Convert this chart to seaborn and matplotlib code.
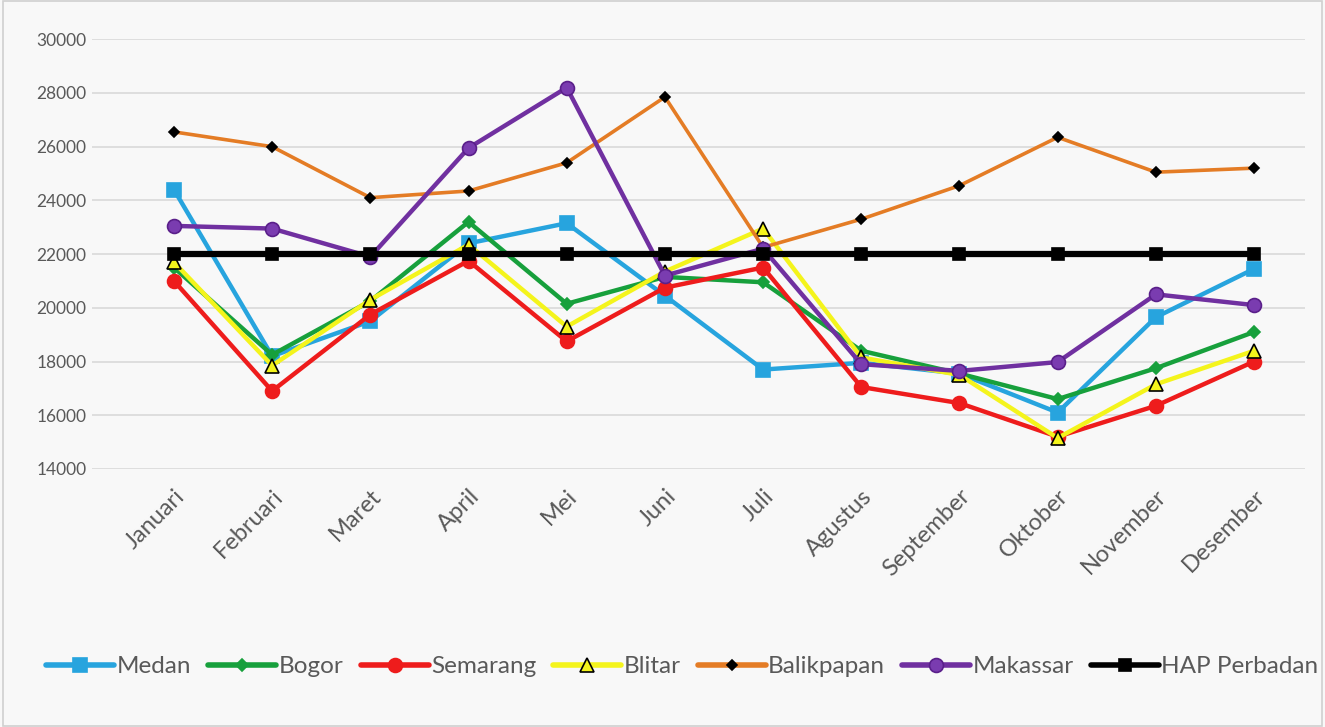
import numpy as np
import pandas as pd
import matplotlib
matplotlib.use('Agg')
import matplotlib.pyplot as plt
import seaborn as sns

# Данные
bulan = ['Januari', 'Februari', 'Maret', 'April', 'Mei', 'Juni', 'Juli',
         'Agustus', 'September', 'Oktober', 'November', 'Desember']

medan = [24400, 18200, 19500, 22400, 23150, 20450, 17700, 17950, 17550, 16100, 19650, 21450]
bogor = [21500, 18250, 20250, 23200, 20150, 21150, 20950, 18400, 17550, 16600, 17750, 19100]
semarang = [21000, 16900, 19750, 21750, 18750, 20750, 21500, 17050, 16450, 15200, 16350, 18000]
blitar = [21700, 17850, 20300, 22350, 19300, 21350, 22950, 18150, 17500, 15150, 17150, 18400]
balikpapan = [26550, 26000, 24100, 24350, 25400, 27850, 22250, 23300, 24550, 26350, 25050, 25200]
makassar = [23050, 22950, 21900, 25950, 28200, 21200, 22200, 17900, 17650, 17980, 20500, 20100]
hap = [22000] * 12

series = {
    'Medan': medan,
    'Bogor': bogor,
    'Semarang': semarang,
    'Blitar': blitar,
    'Balikpapan': balikpapan,
    'Makassar': makassar,
    'HAP Perbadan': hap,
}

# стиль каждой линии: цвет, маркер, размер, цвет маркера, обводка, толщина
styles = {
    'Medan': dict(color='#27a4de', marker='s', ms=9.5, mfc='#27a4de', mec='#27a4de', lw=3.2),
    'Bogor': dict(color='#17a03c', marker='D', ms=6, mfc='#17a03c', mec='#17a03c', lw=3.2),
    'Semarang': dict(color='#ee1c1c', marker='o', ms=10, mfc='#ee1c1c', mec='#ee1c1c', lw=3.2),
    'Blitar': dict(color='#f4f41c', marker='^', ms=10, mfc='#f4f41c', mec='black', lw=3.2),
    'Balikpapan': dict(color='#e47c25', marker='D', ms=5.5, mfc='black', mec='black', lw=2.6),
    'Makassar': dict(color='#7030a0', marker='o', ms=10, mfc='#7a3cb0', mec='#5a1f8a', lw=3.2),
    'HAP Perbadan': dict(color='black', marker='s', ms=9, mfc='black', mec='black', lw=4.5),
}

df = pd.DataFrame({'bulan': bulan * len(series),
                   'x': list(range(12)) * len(series),
                   'kota': [k for k in series for _ in bulan],
                   'harga': [v for k in series for v in series[k]]})

sns.set_theme(style='white')
plt.rcParams['font.family'] = ['Lato', 'DejaVu Sans']

bg = '#f8f8f8'
fig = plt.figure(figsize=(13.25, 7.27), dpi=100, facecolor=bg)
ax = fig.add_axes([0.0694, 0.355, 0.9156, 0.591])
ax.set_facecolor(bg)

for kota in series:
    st = styles[kota]
    sub = df[df['kota'] == kota]
    sns.lineplot(data=sub, x='x', y='harga', ax=ax, color=st['color'],
                 linewidth=st['lw'], marker=st['marker'], markersize=st['ms'],
                 markerfacecolor=st['mfc'], markeredgecolor=st['mec'],
                 markeredgewidth=1.2, label=kota, legend=False)

ax.set_ylim(14000, 30000)
ax.set_xlim(-0.835, 11.52)
ax.set_yticks(np.arange(14000, 30001, 2000))
ax.set_xticks(range(12))
ax.set_xticklabels(bulan, rotation=45, ha='right', rotation_mode='anchor')
ax.tick_params(axis='y', labelsize=12.5, colors='#595959', pad=4, length=0)
ax.tick_params(axis='x', labelsize=17, colors='#595959', pad=12, length=0)
ax.yaxis.grid(True, color='#d9d9d9', linewidth=1.2)
ax.set_axisbelow(True)
for s in ax.spines.values():
    s.set_visible(False)
ax.set_xlabel('')
ax.set_ylabel('')

handles, labels = ax.get_legend_handles_labels()
leg = fig.legend(handles, labels, loc='center', bbox_to_anchor=(0.515, 0.083),
                 ncol=7, frameon=False, fontsize=17.5, handlelength=2.8,
                 handletextpad=0.1, columnspacing=0.7, labelcolor='#595959')
for ln in leg.get_lines():
    ln.set_linewidth(4)

# рамка вокруг рисунка
fig.patches.append(plt.Rectangle((0.002, 0.002), 0.996, 0.996, transform=fig.transFigure,
                                 fill=False, edgecolor='#d0d0d0', linewidth=1.2))

fig.savefig('out.png', dpi=100, facecolor=bg)
